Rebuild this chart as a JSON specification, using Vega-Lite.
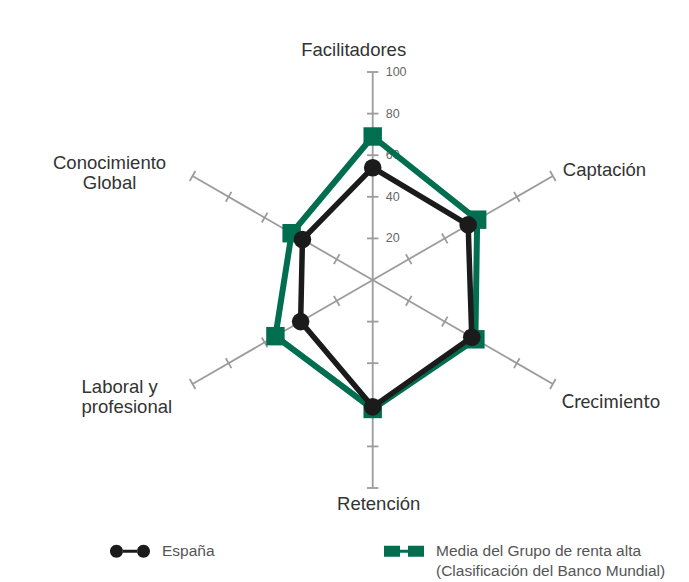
{
  "$schema": "https://vega.github.io/schema/vega-lite/v6.json",
  "width": 689,
  "height": 582,
  "padding": 0,
  "autosize": {"type": "none"},
  "background": "white",
  "config": {"view": {"stroke": null}},
  "datasets": {
    "dims": [
      {"dim": "Facilitadores", "ticks": [20, 40, 60, 80, 100]},
      {"dim": "Captación", "ticks": [20, 40, 60, 80, 100]},
      {"dim": "Crecimiento", "ticks": [20, 40, 60, 80, 100]},
      {"dim": "Retención", "ticks": [20, 40, 60, 80, 100]},
      {"dim": "Laboral y profesional", "ticks": [20, 40, 60, 80, 100]},
      {"dim": "Conocimiento Global", "ticks": [20, 40, 60, 80, 100]}
    ],
    "vals": [
      {"serie": "España", "dim": "Facilitadores", "v": 54},
      {"serie": "España", "dim": "Captación", "v": 53},
      {"serie": "España", "dim": "Crecimiento", "v": 55},
      {"serie": "España", "dim": "Retención", "v": 61},
      {"serie": "España", "dim": "Laboral y profesional", "v": 40},
      {"serie": "España", "dim": "Conocimiento Global", "v": 39},
      {"serie": "Media del Grupo de renta alta (Clasificación del Banco Mundial)", "dim": "Facilitadores", "v": 69},
      {"serie": "Media del Grupo de renta alta (Clasificación del Banco Mundial)", "dim": "Captación", "v": 58},
      {"serie": "Media del Grupo de renta alta (Clasificación del Banco Mundial)", "dim": "Crecimiento", "v": 57},
      {"serie": "Media del Grupo de renta alta (Clasificación del Banco Mundial)", "dim": "Retención", "v": 62},
      {"serie": "Media del Grupo de renta alta (Clasificación del Banco Mundial)", "dim": "Laboral y profesional", "v": 54},
      {"serie": "Media del Grupo de renta alta (Clasificación del Banco Mundial)", "dim": "Conocimiento Global", "v": 45}
    ]
  },
  "layer": [
    {
      "data": {"name": "dims"},
      "transform": [
        {"calculate": "indexof(['Facilitadores','Captación','Crecimiento','Retención','Laboral y profesional','Conocimiento Global'], datum.dim) * PI / 3", "as": "a"},
        {"calculate": "100 * sin(datum.a)", "as": "ex"},
        {"calculate": "100 * cos(datum.a)", "as": "ey"},
        {"calculate": "0", "as": "c"}
      ],
      "mark": {"type": "rule", "color": "#9c9c9c", "strokeWidth": 1.8},
      "encoding": {
        "x": {"field": "c", "type": "quantitative", "scale": {"domain": [-179.18, 152.07], "nice": false, "zero": false}, "axis": null},
        "y": {"field": "c", "type": "quantitative", "scale": {"domain": [-145.19, 134.62], "nice": false, "zero": false}, "axis": null},
        "x2": {"field": "ex"},
        "y2": {"field": "ey"}
      }
    },
    {
      "data": {"name": "dims"},
      "transform": [
        {"flatten": ["ticks"], "as": ["t"]},
        {"calculate": "indexof(['Facilitadores','Captación','Crecimiento','Retención','Laboral y profesional','Conocimiento Global'], datum.dim) * PI / 3", "as": "a"},
        {"calculate": "datum.t * sin(datum.a)", "as": "tx"},
        {"calculate": "datum.t * cos(datum.a)", "as": "ty"},
        {"calculate": "datum.a * 180 / PI", "as": "deg"}
      ],
      "mark": {"type": "point", "shape": "stroke", "filled": false, "color": "#9c9c9c", "strokeWidth": 1.8, "size": 130, "opacity": 1},
      "encoding": {
        "x": {"field": "tx", "type": "quantitative", "axis": null},
        "y": {"field": "ty", "type": "quantitative", "axis": null},
        "angle": {"field": "deg", "type": "quantitative", "scale": null}
      }
    },
    {
      "data": {"name": "dims"},
      "transform": [
        {"filter": "datum.dim == 'Facilitadores'"},
        {"flatten": ["ticks"], "as": ["t"]},
        {"calculate": "0", "as": "tx"}
      ],
      "mark": {"type": "text", "align": "left", "baseline": "middle", "dx": 13, "font": "Liberation Sans", "fontSize": 12.5, "color": "#666666"},
      "encoding": {
        "x": {"field": "tx", "type": "quantitative", "axis": null},
        "y": {"field": "t", "type": "quantitative", "axis": null},
        "text": {"field": "t", "type": "nominal"}
      }
    },
    {
      "data": {"name": "dims"},
      "transform": [
        {"calculate": "indexof(['Facilitadores','Captación','Crecimiento','Retención','Laboral y profesional','Conocimiento Global'], datum.dim) * PI / 3", "as": "a"},
        {"calculate": "100 * sin(datum.a)", "as": "ex"},
        {"calculate": "100 * cos(datum.a)", "as": "ey"},
        {"calculate": "replace(datum.dim, 'y ', 'y|\u00a0')", "as": "lbl"}
      ],
      "layer": [
        {
          "transform": [{"filter": "datum.dim == 'Facilitadores'"}],
          "mark": {"type": "text", "align": "center", "baseline": "middle", "dx": -19, "dy": -22, "font": "Liberation Sans", "fontSize": 18.5, "color": "#333333"},
          "encoding": {"x": {"field": "ex", "type": "quantitative"}, "y": {"field": "ey", "type": "quantitative"}, "text": {"field": "dim", "type": "nominal"}}
        },
        {
          "transform": [{"filter": "datum.dim == 'Captación'"}],
          "mark": {"type": "text", "align": "left", "baseline": "middle", "dx": 10, "dy": -6, "font": "Liberation Sans", "fontSize": 18.5, "color": "#333333"},
          "encoding": {"x": {"field": "ex", "type": "quantitative"}, "y": {"field": "ey", "type": "quantitative"}, "text": {"field": "dim", "type": "nominal"}}
        },
        {
          "transform": [{"filter": "datum.dim == 'Crecimiento'"}],
          "mark": {"type": "text", "align": "left", "baseline": "middle", "dx": 9, "dy": 18, "font": "Lato", "fontSize": 18.5, "color": "#333333"},
          "encoding": {"x": {"field": "ex", "type": "quantitative"}, "y": {"field": "ey", "type": "quantitative"}, "text": {"field": "dim", "type": "nominal"}}
        },
        {
          "transform": [{"filter": "datum.dim == 'Retención'"}],
          "mark": {"type": "text", "align": "center", "baseline": "middle", "dx": 6, "dy": 16, "font": "Liberation Sans", "fontSize": 18.5, "color": "#333333"},
          "encoding": {"x": {"field": "ex", "type": "quantitative"}, "y": {"field": "ey", "type": "quantitative"}, "text": {"field": "dim", "type": "nominal"}}
        },
        {
          "transform": [{"filter": "datum.dim == 'Laboral y profesional'"}],
          "mark": {"type": "text", "align": "left", "baseline": "middle", "dx": -111, "dy": 3, "lineHeight": 19.5, "lineBreak": "|", "font": "Liberation Sans", "fontSize": 18.5, "color": "#333333"},
          "encoding": {"x": {"field": "ex", "type": "quantitative"}, "y": {"field": "ey", "type": "quantitative"}, "text": {"field": "lbl", "type": "nominal"}}
        },
        {
          "transform": [{"filter": "datum.dim == 'Conocimiento Global'"}],
          "mark": {"type": "text", "align": "center", "baseline": "middle", "dx": -83, "dy": -13, "lineBreak": " ", "lineHeight": 20, "font": "Liberation Sans", "fontSize": 18.5, "color": "#333333"},
          "encoding": {"x": {"field": "ex", "type": "quantitative"}, "y": {"field": "ey", "type": "quantitative"}, "text": {"field": "dim", "type": "nominal"}}
        }
      ]
    },
    {
      "data": {"name": "vals"},
      "transform": [
        {"calculate": "indexof(['Facilitadores','Captación','Crecimiento','Retención','Laboral y profesional','Conocimiento Global'], datum.dim)", "as": "idx"},
        {"calculate": "datum.idx * PI / 3", "as": "a"},
        {"calculate": "datum.v * sin(datum.a)", "as": "px"},
        {"calculate": "datum.v * cos(datum.a)", "as": "py"}
      ],
      "layer": [
        {
          "transform": [{"filter": "datum.serie != 'España'"}],
          "mark": {"type": "line", "interpolate": "linear-closed", "strokeWidth": 6, "strokeJoin": "miter"},
          "encoding": {
            "x": {"field": "px", "type": "quantitative"},
            "y": {"field": "py", "type": "quantitative"},
            "order": {"field": "idx", "type": "quantitative"},
            "color": {
              "field": "serie", "type": "nominal",
              "scale": {"domain": ["España", "Media del Grupo de renta alta (Clasificación del Banco Mundial)"], "range": ["#1b1b1b", "#006e4f"]},
              "legend": {
                "title": null, "orient": "none", "legendX": 110, "legendY": 531, "direction": "horizontal", "columns": 2, "columnPadding": 169, "padding": 0,
                "labelFont": "Liberation Sans", "labelFontSize": 15.5, "labelColor": "#555555", "labelOffset": 12, "labelLimit": 400, "labelBaseline": "middle",
                "symbolSize": 1600,
                "labelExpr": "indexof(datum.label, ' (') > 0 ? [substring(datum.label, 0, indexof(datum.label, ' (')), substring(datum.label, indexof(datum.label, ' (') + 1)] : [datum.label, '']",
                "encode": {
                  "symbols": {"update": {
                    "shape": {"signal": "datum.value == 'España' ? 'M-1,0A0.325,0.325,0,1,0,-0.35,0A0.325,0.325,0,1,0,-1,0ZM0.35,0A0.325,0.325,0,1,0,1,0A0.325,0.325,0,1,0,0.35,0ZM-0.36,-0.08L0.36,-0.08L0.36,0.08L-0.36,0.08Z' : 'M-1,-0.27L-0.2,-0.27L-0.2,0.27L-1,0.27ZM0.2,-0.27L1,-0.27L1,0.27L0.2,0.27ZM-0.2,-0.08L0.2,-0.08L0.2,0.08L-0.2,0.08Z'"},
                    "fill": {"signal": "datum.value == 'España' ? '#1b1b1b' : '#006e4f'"},
                    "stroke": {"value": "transparent"},
                    "strokeWidth": {"value": 0},
                    "opacity": {"value": 1}
                  }},
                  "labels": {"update": {
                    "lineHeight": {"value": 20}
                  }}
                }
              }
            }
          }
        },
        {
          "transform": [{"filter": "datum.serie != 'España'"}],
          "mark": {"type": "point", "shape": "square", "filled": true, "size": 340, "color": "#006e4f", "opacity": 1},
          "encoding": {
            "x": {"field": "px", "type": "quantitative"},
            "y": {"field": "py", "type": "quantitative"}
          }
        },
        {
          "transform": [{"filter": "datum.serie == 'España'"}],
          "mark": {"type": "line", "interpolate": "linear-closed", "strokeWidth": 5.5, "strokeJoin": "miter"},
          "encoding": {
            "x": {"field": "px", "type": "quantitative"},
            "y": {"field": "py", "type": "quantitative"},
            "order": {"field": "idx", "type": "quantitative"},
            "color": {"field": "serie", "type": "nominal"}
          }
        },
        {
          "transform": [{"filter": "datum.serie == 'España'"}],
          "mark": {"type": "point", "shape": "circle", "filled": true, "size": 310, "color": "#1b1b1b", "opacity": 1},
          "encoding": {
            "x": {"field": "px", "type": "quantitative"},
            "y": {"field": "py", "type": "quantitative"}
          }
        }
      ]
    }
  ]
}
